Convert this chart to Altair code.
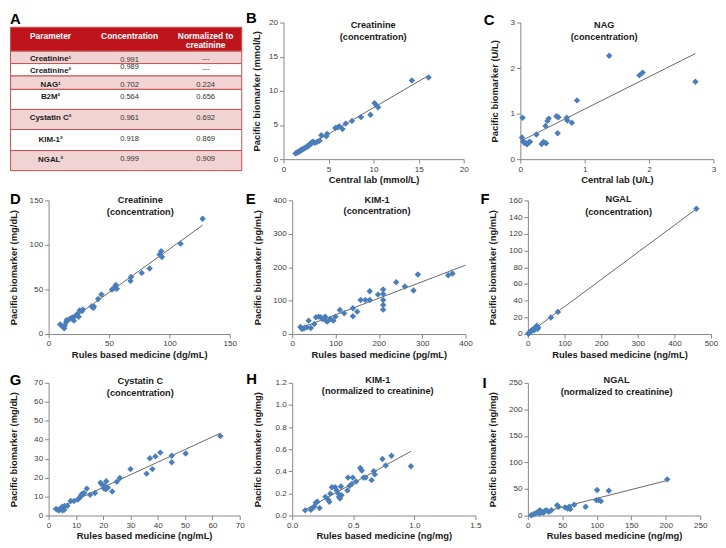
import altair as alt
import pandas as pd

FONT = "Liberation Sans"
BLUE = "#4a7ebb"
AXIS_GRAY = "#868686"
LINE_COLOR = "#404040"

# ---------------- data ----------------
# Table A
TABLE_PARAMS = ["Creatinine¹", "Creatinine²", "NAG¹", "B2M²", "Cystatin C²", "KIM-1²", "NGAL²"]
TABLE_CONC = ["0.991", "0.989", "0.702", "0.564", "0.961", "0.918", "0.999"]
TABLE_NORM = ["---", "---", "0.224", "0.656", "0.692", "0.869", "0.909"]
TABLE_HEADERS = ["Parameter", "Concentration", "Normalized to", "creatinine"]

# B  Creatinine (concentration), central lab vs Pacific
B_x = [1.33, 1.5, 1.6, 1.75, 1.87, 1.97, 2.05, 2.2, 2.33, 2.4, 2.6, 2.7, 2.75, 2.87, 2.95, 3.05, 3.1, 3.23, 3.3, 3.5,
       3.75, 4.0, 4.2, 4.75, 4.85, 5.75, 6.0, 6.2, 6.55, 6.9, 7.6, 8.6, 9.65, 10.1, 10.3, 10.5, 14.25, 16.1]
B_y = [0.84, 0.93, 1.07, 1.1, 1.3, 1.3, 1.4, 1.53, 1.58, 1.67, 1.86, 1.86, 1.95, 2.05, 2.2, 2.3, 2.4, 2.47, 2.55, 2.4,
       2.55, 2.7, 3.5, 3.35, 3.7, 4.55, 4.65, 4.8, 4.4, 5.2, 5.6, 6.15, 6.5, 8.2, 7.9, 7.6, 11.5, 11.95]
# C  NAG (concentration)
C_x = [0.025, 0.035, 0.05, 0.06, 0.09, 0.1, 0.11, 0.14, 0.15, 0.25, 0.33, 0.36, 0.39, 0.4, 0.42, 0.44, 0.56, 0.58,
       0.59, 0.72, 0.73, 0.8, 0.88, 1.38, 1.85, 1.9, 2.72]
C_y = [0.475, 0.91, 0.38, 0.36, 0.35, 0.33, 0.33, 0.38, 0.38, 0.54, 0.33, 0.38, 0.73, 0.35, 0.84, 0.89, 0.94, 0.57,
       0.92, 0.91, 0.85, 0.8, 1.29, 2.27, 1.84, 1.9, 1.70]
# D  Creatinine (concentration), RBM vs Pacific
D_x = [9.6, 11.5, 12.9, 13.4, 14.5, 15, 17.7, 19.6, 20.9, 22.2, 23.6, 24.9, 25.7, 27.6, 28.4, 35.6, 37, 37.5, 41, 43.7,
       52.5, 54.4, 55.2, 55.7, 56.5, 67.8, 68.3, 77.1, 83.6, 91.9, 93.2, 93.8, 109.3, 127.5]
D_y = [10.7, 8.6, 6.4, 9.6, 13.2, 15.7, 17.1, 18.6, 15, 20.4, 22.1, 19.3, 26.4, 25.7, 27.5, 31, 29.3, 31, 39.3, 44.3,
       50, 51.4, 53.6, 55, 50.7, 59.6, 63.9, 68.6, 73.6, 89.3, 92.9, 86.4, 101.4, 129.3]
# E  KIM-1 (concentration)
E_x = [19, 23, 28, 34, 38, 43, 51, 55, 61, 66, 70, 76, 78, 81, 88, 95, 100, 110, 120, 140,
       140, 150, 158, 169, 179, 179, 198, 210, 210, 210, 210, 210, 240, 260, 280, 290, 360, 370]
E_y = [21, 15, 18, 20, 40, 18, 30, 50, 52, 50, 45, 52, 40, 37, 45, 40, 52, 72, 62, 77,
       53, 67, 102, 102, 102, 128, 118, 133, 120, 102, 87, 73, 155, 142, 130, 178, 176, 181]
# F  NGAL (concentration)
F_x = [1, 3, 4, 5, 6, 7, 8, 10, 12, 14, 15, 18, 20, 22, 24, 25, 26, 27, 28, 63, 82, 460]
F_y = [0.5, 1, 1.5, 2, 2.5, 3, 3.5, 4, 5, 4.5, 6, 5, 7, 8, 10, 9, 6, 7, 8, 19.8, 26.5, 150]
# G  Cystatin C (concentration)
G_x = [2.7, 3.3, 3.9, 4.5, 5.1, 5.1, 5.7, 5.9, 6.9, 8.1, 9.3, 10.7, 11.4, 11.9, 12.2, 13, 14, 15.2, 17, 19,
       19.7, 20.2, 20.5, 20.9, 21.1, 21.7, 23.3, 25, 26.1, 30, 35.9, 37.1, 38, 39.1, 40.9, 45.1, 45.1, 50.2, 62.9]
G_y = [3.5, 3.0, 2.7, 3.9, 4.7, 2.7, 3.0, 5.0, 5.2, 7.7, 7.7, 8.5, 9.4, 10.6, 11.4, 11.9, 14.2, 10.9, 11.9, 17.3,
       16.1, 14.4, 15.6, 13.9, 18.1, 14.7, 12.7, 17.8, 19.8, 24.5, 22.1, 30.2, 24.5, 31.2, 33.2, 31.5, 28.1, 32.7, 41.9]
# H  KIM-1 (normalized to creatinine)
H_x = [0.106, 0.153, 0.166, 0.18, 0.193, 0.206, 0.224, 0.272, 0.293, 0.304, 0.312, 0.325, 0.351, 0.364, 0.378,
       0.383, 0.391, 0.399, 0.404, 0.452, 0.457, 0.47, 0.488, 0.496, 0.523, 0.557, 0.57, 0.584, 0.602, 0.65,
       0.668, 0.676, 0.739, 0.766, 0.813, 0.972]
H_y = [0.047, 0.052, 0.067, 0.081, 0.116, 0.125, 0.067, 0.169, 0.145, 0.125, 0.198, 0.256, 0.256, 0.227, 0.198,
       0.169, 0.154, 0.262, 0.183, 0.227, 0.343, 0.27, 0.285, 0.343, 0.308, 0.43, 0.407, 0.343, 0.343, 0.32,
       0.401, 0.372, 0.512, 0.453, 0.541, 0.445]
# I  NGAL (normalized to creatinine)
I_x = [4.7, 8, 11.4, 14.2, 16.6, 17.5, 19.9, 22.3, 24.6, 27, 30.3, 34, 42.6, 44.5, 54, 57.8, 60.1, 61.5, 67.2, 83.8,
       99.4, 100.4, 102.7, 106, 117.4, 202.2]
I_y = [0.6, 2.5, 3.8, 6.9, 3.8, 10.1, 6.9, 5, 8.8, 10.1, 6.9, 10.1, 19.6, 16.4, 15.2, 13.3, 16.4, 12, 20.2, 16.4,
       29, 48, 29, 27.1, 46.7, 68.2]


# ---------------- helpers ----------------
def make_axis(ticks, title, tx, ty, fmt=None):
    kw = dict(values=ticks, title=title, grid=False, domainColor=AXIS_GRAY, tickColor=AXIS_GRAY,
              tickSize=4, tickWidth=1, domainWidth=1, labelFontSize=8.2, labelColor="#404040",
              labelPadding=2, labelFlush=False, labelOverlap=False, titleFontSize=9.5,
              titleFontWeight="bold", titleColor="#1a1a1a", titleX=tx, titleY=ty,
              titleBaseline="middle", labelFont=FONT, titleFont=FONT)
    if fmt:
        kw["format"] = fmt
    return alt.Axis(**kw)


def text_layer(txt, x, y, size, weight="bold", color="#1a1a1a"):
    return alt.Chart(pd.DataFrame({"k": [0]})).mark_text(
        text=txt, fontSize=size, fontWeight=weight, color=color, font=FONT,
        align="center", baseline="middle"
    ).encode(x=alt.value(x), y=alt.value(y))


def panel(xv, yv, w, h, xdom, xticks, ydom, yticks, xtitle, ytitle, t1, t2, tx, ty1, ty2,
          letter, lx, ly, ytx, extent, fmt=None):
    df = pd.DataFrame({"x": xv, "y": yv})
    xs = alt.X("x:Q", scale=alt.Scale(domain=xdom, nice=False, zero=False),
               axis=make_axis(xticks, xtitle, w / 2, 20.5, fmt))
    ys = alt.Y("y:Q", scale=alt.Scale(domain=ydom, nice=False, zero=False),
               axis=make_axis(yticks, ytitle, ytx, h / 2, fmt))
    line = alt.Chart(df).transform_regression("x", "y", extent=extent).mark_line(
        color=LINE_COLOR, strokeWidth=0.8).encode(x=xs, y=ys)
    pts = alt.Chart(df).mark_point(shape="diamond", filled=True, size=42, color=BLUE,
                                   opacity=1).encode(x=xs, y=ys)
    return alt.layer(
        line, pts,
        text_layer(t1, tx, ty1, 9.3),
        text_layer(t2, tx, ty2, 9.3),
        text_layer(letter, lx, ly, 15, color="#000000"),
    ).properties(width=w, height=h)


# ---------------- table A ----------------
ROW_BOUNDS = [15, 40, 53, 66, 80, 101, 122, 144, 165]
ROW_FILLS = ["#c0141c", "#f2d3d4", "#ffffff", "#f2d3d4", "#ffffff", "#f2d3d4", "#ffffff", "#f2d3d4"]
COL_CENTERS = [43, 124, 202]
PARAM_Y = [48, 61, 75, 88, 110, 133, 154]
CONC_Y = [49, 57, 75, 88, 110, 131.7, 153]
NORM_Y = [48, 59, 75, 88, 110, 131.7, 153]
HEADER_Y = [24.5, 24.5, 24.5, 33.7]
HEADER_X = [43, 124, 202, 202]

T_W, T_H = 179.2, 138
xsc = alt.Scale(domain=[41, 41 + T_W / 0.985], nice=False, zero=False)
ysc = alt.Scale(domain=[153, 10], nice=False, zero=False)

cells = pd.DataFrame({
    "x0": [2] * 8, "x1": [239] * 8,
    "y0": ROW_BOUNDS[:-1], "y1": ROW_BOUNDS[1:], "fill": ROW_FILLS,
})
rects = alt.Chart(cells).mark_rect(stroke="#c0504d", strokeWidth=1).encode(
    x=alt.X("x0:Q", scale=xsc, axis=None), x2="x1:Q",
    y=alt.Y("y0:Q", scale=ysc, axis=None), y2="y1:Q",
    fill=alt.Fill("fill:N", scale=None),
)
hdr = pd.DataFrame({"t": TABLE_HEADERS, "x": HEADER_X, "y": HEADER_Y})
hdr_text = alt.Chart(hdr).mark_text(fontSize=8.5, fontWeight="bold", color="white", font=FONT,
                                    align="center", baseline="middle").encode(
    x=alt.X("x:Q", scale=xsc, axis=None), y=alt.Y("y:Q", scale=ysc, axis=None), text="t:N")
prm = pd.DataFrame({"t": TABLE_PARAMS, "x": [COL_CENTERS[0]] * 7, "y": PARAM_Y})
prm_text = alt.Chart(prm).mark_text(fontSize=8, fontWeight="bold", color="#1a1a1a", font=FONT,
                                    align="center", baseline="middle").encode(
    x=alt.X("x:Q", scale=xsc, axis=None), y=alt.Y("y:Q", scale=ysc, axis=None), text="t:N")
vals = pd.DataFrame({
    "t": TABLE_CONC + TABLE_NORM,
    "x": [COL_CENTERS[1]] * 7 + [COL_CENTERS[2]] * 7,
    "y": CONC_Y + NORM_Y,
})
val_text = alt.Chart(vals).mark_text(fontSize=7.6, color="#333333", font=FONT,
                                     align="center", baseline="middle").encode(
    x=alt.X("x:Q", scale=xsc, axis=None), y=alt.Y("y:Q", scale=ysc, axis=None), text="t:N")
table = alt.layer(rects, hdr_text, prm_text, val_text,
                  text_layer("A", -33.5, -3.9, 15, color="#000000")).properties(width=T_W, height=T_H)

# ---------------- panels ----------------
pB = panel(B_x, B_y, 182, 138, [0, 20], [0, 5, 10, 15, 20], [0, 20], [0, 5, 10, 15, 20],
           "Central lab (mmol/L)", "Pacific biomarker (mmol/L)", "Creatinine", "(concentration)",
           90.6, 2.6, 14.5, "B", -32.5, -4.8, -27.6, [1.3, 16.1])
pC = panel(C_x, C_y, 195, 138, [0, 3], [0, 1, 2, 3], [0, 3], [0, 1, 2, 3],
           "Central lab (U/L)", "Pacific biomarker (U/L)", "NAG", "(concentration)",
           84.7, 2.6, 14.5, "C", -31.5, -2.4, -25.6, [0, 2.72])
pD = panel(D_x, D_y, 183, 135, [0, 150], [0, 50, 100, 150], [0, 150], [0, 50, 100, 150],
           "Rules based medicine (dg/mL)", "Pacific biomarker (mg/dL)", "Creatinine", "(concentration)",
           92.6, -0.7, 11.3, "D", -33.5, -1, -35.0, [10, 127.5])
pE = panel(E_x, E_y, 175, 135, [0, 400], [0, 100, 200, 300, 400], [0, 400], [0, 100, 200, 300, 400],
           "Rules based medicine (pg/mL)", "Pacific biomarker (pg/mL)", "KIM-1", "(concentration)",
           85.7, 0, 10.6, "E", -41.9, -1, -35.5, [19, 400])
pF = panel(F_x, F_y, 185, 135, [0, 500], [0, 100, 200, 300, 400, 500], [0, 160],
           [0, 20, 40, 60, 80, 100, 120, 140, 160],
           "Rules based medicine (ng/mL)", "Pacific biomarker (ng/mL)", "NGAL", "(concentration)",
           91.6, -1.3, 11.6, "F", -43.3, -1, -35.5, [0, 460])
pG = panel(G_x, G_y, 193, 134, [0, 70], [0, 10, 20, 30, 40, 50, 60, 70], [0, 70],
           [0, 10, 20, 30, 40, 50, 60, 70],
           "Rules based medicine (ng/mL)", "Pacific biomarker (mg/dL)", "Cystatin C", "(concentration)",
           92.6, -2, 9.9, "G", -33.5, -3, -35.0, [2.7, 63])
pH = panel(H_x, H_y, 185, 134, [0, 1.5], [0, 0.5, 1.0, 1.5], [0, 1.2], [0, 0.2, 0.4, 0.6, 0.8, 1.0, 1.2],
           "Rules based medicine (ng/mg)", "Pacific biomarker (ng/mg)", "KIM-1",
           "(normalized to creatinine)", 86.4, -3, 8.7, "H", -40.9, -4, -35.5, [0.106, 0.972], fmt=".1f")
pI = panel(I_x, I_y, 174, 134, [0, 250], [0, 50, 100, 150, 200, 250], [0, 250], [0, 50, 100, 150, 200, 250],
           "Rules based medicine (ng/mg)", "Pacific biomarker (ng/mg)", "NGAL",
           "(normalized to creatinine)", 89.6, -2.6, 9.4, "I", -43.8, 0, -35.5, [3.3, 202])

row1 = alt.hconcat(table, pB, pC, spacing=57.2, bounds="flush")
row2 = alt.hconcat(pD, pE, pF, spacing=63, bounds="flush")
row3 = alt.hconcat(pG, pH, pI, spacing=53, bounds="flush")
lower = alt.vconcat(row2, row3, spacing=13.3)

chart = alt.vconcat(row1, lower, spacing=8.6).properties(
    padding=0, background="white"
).configure(font=FONT).configure_view(stroke=None)

chart.save("out.html", embed_options={"renderer": "svg", "actions": False})
